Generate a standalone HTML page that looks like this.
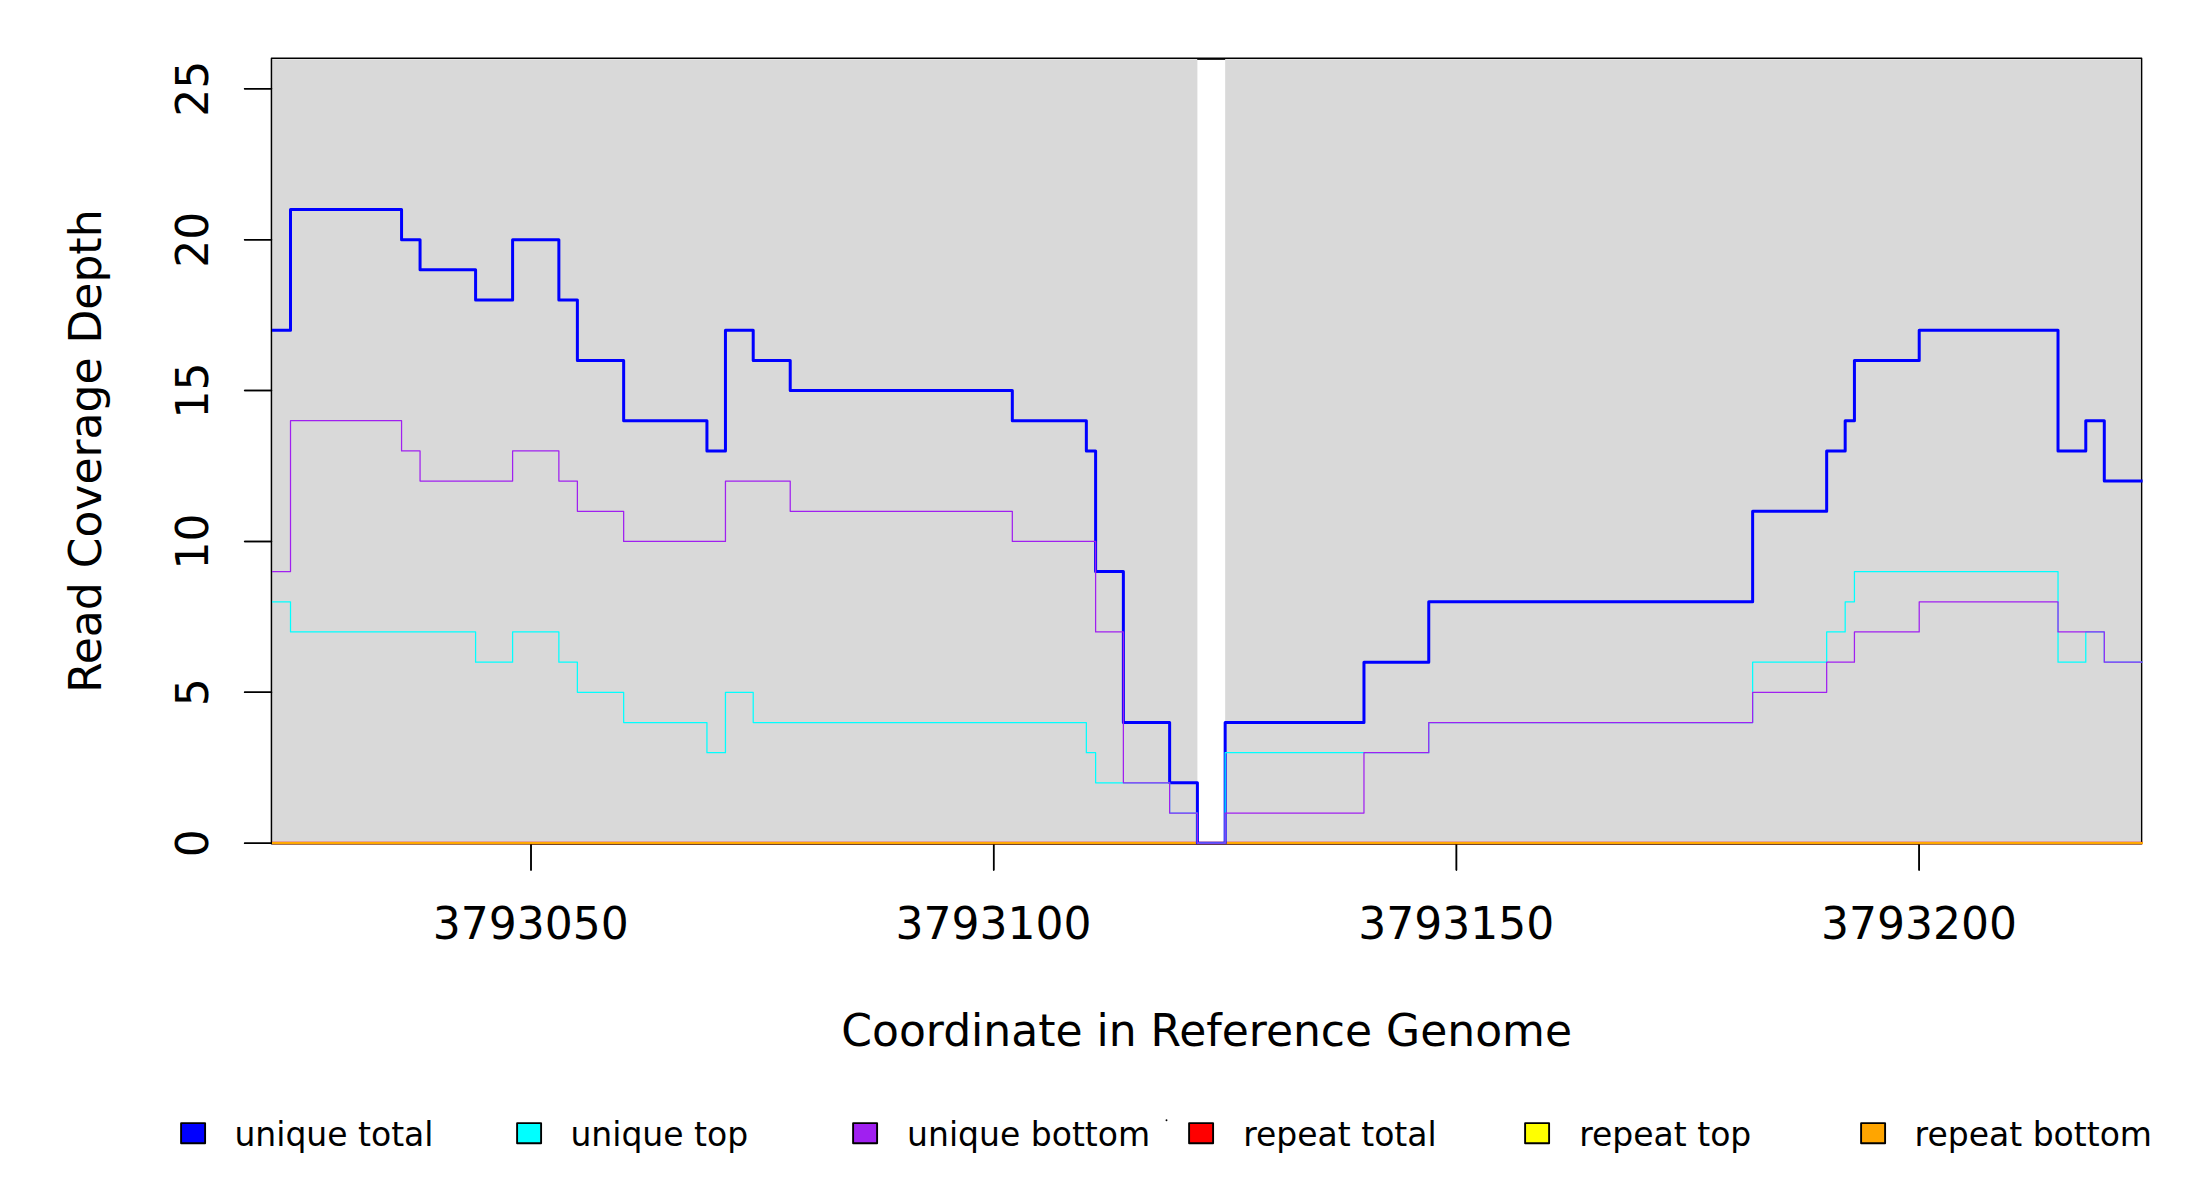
<!DOCTYPE html>
<html lang="en">
<head>
<meta charset="utf-8">
<title>Read Coverage Depth</title>
<style>
html,body{margin:0;padding:0;background:#fff;}
body{width:2200px;height:1200px;overflow:hidden;}
svg{display:block;}
text{font-family:"DejaVu Sans","Liberation Sans",sans-serif;fill:#000;}
</style>
</head>
<body>
<svg width="2200" height="1200" viewBox="0 0 2200 1200">
<rect x="0" y="0" width="2200" height="1200" fill="#ffffff"/>

<rect x="272.20" y="59.33" width="925.20" height="784.32" fill="#d9d9d9"/>
<rect x="1225.16" y="59.33" width="915.14" height="784.32" fill="#d9d9d9"/>
<rect x="271.45" y="58.25" width="1870.15" height="785.40" fill="none" stroke="#000" stroke-width="1.5" stroke-linejoin="round"/>
<rect x="1197.20" y="58.4" width="27.96" height="1.45" fill="#000"/>
<g stroke="#000" stroke-width="1.5" stroke-linecap="round" fill="none">
<path d="M271.45 843.20 H244.60"/>
<path d="M271.45 692.32 H244.60"/>
<path d="M271.45 541.44 H244.60"/>
<path d="M271.45 390.56 H244.60"/>
<path d="M271.45 239.68 H244.60"/>
<path d="M271.45 88.80 H244.60"/>
<path d="M271.45 843.20 H244.60"/>
<path d="M271.45 692.32 H244.60"/>
<path d="M271.45 541.44 H244.60"/>
<path d="M271.45 390.56 H244.60"/>
<path d="M271.45 239.68 H244.60"/>
<path d="M271.45 88.80 H244.60"/>
<path d="M531.01 843.65 H1919.11"/>
<path d="M531.01 843.65 V870.00"/>
<path d="M993.71 843.65 V870.00"/>
<path d="M1456.41 843.65 V870.00"/>
<path d="M1919.11 843.65 V870.00"/>
<path d="M531.01 843.65 V870.00"/>
<path d="M993.71 843.65 V870.00"/>
<path d="M1456.41 843.65 V870.00"/>
<path d="M1919.11 843.65 V870.00"/>
</g>
<defs><clipPath id="plotclip"><rect x="271.45" y="58.25" width="1871.15" height="786.05"/></clipPath></defs>
<g clip-path="url(#plotclip)" fill="none" stroke-linejoin="round" stroke-linecap="butt">
<path d="M272.00 843.20 H2143.31" stroke="#ff0000" stroke-width="3"/>
<path d="M272.00 843.20 H2143.31" stroke="#ffff00" stroke-width="2.1"/>
<path d="M272.00 843.20 H2143.31" stroke="#ffa500" stroke-width="2.1"/>
<path d="M272.00 330.21H290.51V209.50H401.56V239.68H420.06V269.86H475.59V300.03H512.60V239.68H558.87V300.03H577.38V360.38H623.65V420.74H706.94V450.91H725.45V330.21H753.21V360.38H790.22V390.56H1012.32V420.74H1086.35V450.91H1095.61V571.62H1123.37V722.50H1169.64V782.85H1197.40V843.20H1225.16V722.50H1363.97V662.14H1428.75V601.79H1752.64V511.26H1826.67V450.91H1845.18V420.74H1854.43V360.38H1919.21V330.21H2058.02V450.91H2085.78V420.74H2104.29V481.09H2143.31" stroke="#0000ff" stroke-width="3"/>
<path d="M272.00 601.79H290.51V631.97H475.59V662.14H512.60V631.97H558.87V662.14H577.38V692.32H623.65V722.50H706.94V752.67H725.45V692.32H753.21V722.50H1086.35V752.67H1095.61V782.85H1169.64V813.02H1197.40V843.20H1225.16V752.67H1428.75V722.50H1752.64V662.14H1826.67V631.97H1845.18V601.79H1854.43V571.62H2058.02V662.14H2085.78V631.97H2104.29V662.14H2143.31" stroke="#00ffff" stroke-width="1.25"/>
<path d="M272.00 571.62H290.51V420.74H401.56V450.91H420.06V481.09H512.60V450.91H558.87V481.09H577.38V511.26H623.65V541.44H725.45V481.09H790.22V511.26H1012.32V541.44H1095.61V631.97H1123.37V782.85H1169.64V813.02H1197.40V843.20H1225.16V813.02H1363.97V752.67H1428.75V722.50H1752.64V692.32H1826.67V662.14H1854.43V631.97H1919.21V601.79H2058.02V631.97H2104.29V662.14H2143.31" stroke="#a020f0" stroke-width="1.25"/>
</g>
<text transform="translate(207.50 843.20) rotate(-90)" text-anchor="middle" font-size="44.00">0</text>
<text transform="translate(207.50 692.32) rotate(-90)" text-anchor="middle" font-size="44.00">5</text>
<text transform="translate(207.50 541.44) rotate(-90)" text-anchor="middle" font-size="44.00">10</text>
<text transform="translate(207.50 390.56) rotate(-90)" text-anchor="middle" font-size="44.00">15</text>
<text transform="translate(207.50 239.68) rotate(-90)" text-anchor="middle" font-size="44.00">20</text>
<text transform="translate(207.50 88.80) rotate(-90)" text-anchor="middle" font-size="44.00">25</text>
<text x="530.81" y="938.50" text-anchor="middle" font-size="44.00">3793050</text>
<text x="993.51" y="938.50" text-anchor="middle" font-size="44.00">3793100</text>
<text x="1456.21" y="938.50" text-anchor="middle" font-size="44.00">3793150</text>
<text x="1918.91" y="938.50" text-anchor="middle" font-size="44.00">3793200</text>
<text x="1206.65" y="1046.00" text-anchor="middle" font-size="44.00">Coordinate in Reference Genome</text>
<text transform="translate(100.90 451.17) rotate(-90)" text-anchor="middle" font-size="44.00">Read Coverage Depth</text>
<rect x="181.10" y="1123.15" width="24" height="20.05" fill="#0000ff" stroke="#000" stroke-width="1.9" stroke-linejoin="round"/>
<text x="234.40" y="1145.90" font-size="33.00">unique total</text>
<rect x="517.10" y="1123.15" width="24" height="20.05" fill="#00ffff" stroke="#000" stroke-width="1.9" stroke-linejoin="round"/>
<text x="570.40" y="1145.90" font-size="33.00">unique top</text>
<rect x="853.10" y="1123.15" width="24" height="20.05" fill="#a020f0" stroke="#000" stroke-width="1.9" stroke-linejoin="round"/>
<text x="907.10" y="1145.90" font-size="33.00">unique bottom</text>
<rect x="1189.10" y="1123.15" width="24" height="20.05" fill="#ff0000" stroke="#000" stroke-width="1.9" stroke-linejoin="round"/>
<text x="1243.20" y="1145.90" font-size="33.00">repeat total</text>
<rect x="1525.10" y="1123.15" width="24" height="20.05" fill="#ffff00" stroke="#000" stroke-width="1.9" stroke-linejoin="round"/>
<text x="1579.20" y="1145.90" font-size="33.00">repeat top</text>
<rect x="1861.10" y="1123.15" width="24" height="20.05" fill="#ffa500" stroke="#000" stroke-width="1.9" stroke-linejoin="round"/>
<text x="1914.60" y="1145.90" font-size="33.00">repeat bottom</text>
<circle cx="1166.5" cy="1120.3" r="0.95" fill="#000"/>
</svg>
</body>
</html>
